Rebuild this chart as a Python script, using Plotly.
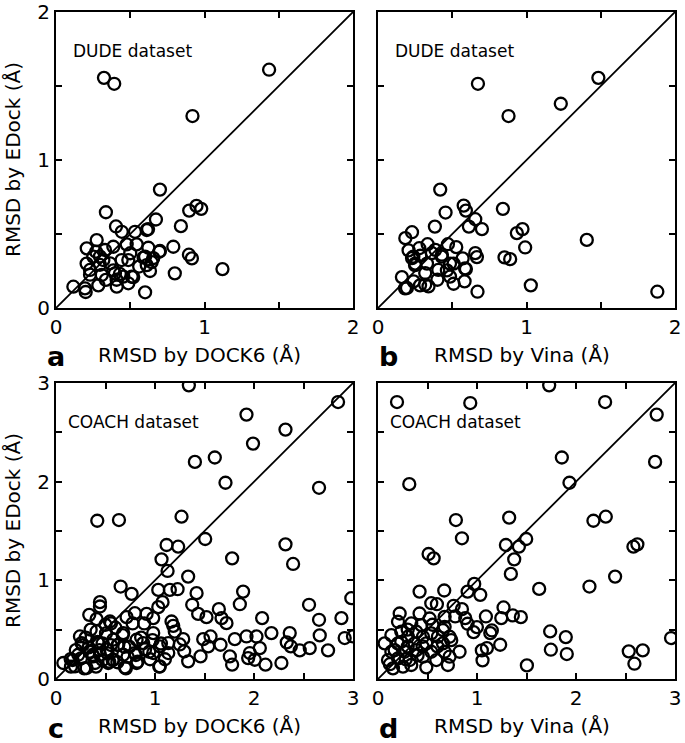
import plotly.graph_objects as go

# DUDE set: DOCK6 vs EDock (panel a)
dude_dock6 = [1.435, 0.323, 0.392, 0.919, 0.70, 0.336, 0.897, 0.946, 0.978, 0.673, 0.841, 0.404,
              0.443, 0.532, 0.611, 0.274, 0.207, 0.33, 0.386, 0.476, 0.543, 0.622, 0.70, 0.79,
              0.251, 0.319, 0.364, 0.442, 0.487, 0.60, 0.611, 0.644, 0.229, 0.308, 0.397, 0.453,
              0.51, 0.633, 0.80, 0.117, 0.195, 0.285, 0.409, 0.487, 0.60, 0.895, 0.915, 1.121,
              0.20, 0.296, 0.386, 0.43, 0.52, 0.206, 0.296, 0.336, 0.408, 0.59, 0.655, 0.229,
              0.695, 0.62, 0.50, 0.56, 0.27]
dude_edock_a = [1.61, 1.555, 1.515, 1.297, 0.80, 0.647, 0.658, 0.69, 0.67, 0.598, 0.553, 0.551,
                0.515, 0.515, 0.527, 0.459, 0.403, 0.392, 0.414, 0.43, 0.43, 0.407, 0.385, 0.414,
                0.347, 0.324, 0.302, 0.324, 0.324, 0.347, 0.29, 0.31, 0.257, 0.223, 0.234, 0.212,
                0.212, 0.25, 0.234, 0.144, 0.133, 0.153, 0.144, 0.167, 0.106, 0.36, 0.335, 0.263,
                0.108, 0.348, 0.254, 0.23, 0.209, 0.30, 0.292, 0.19, 0.191, 0.34, 0.337, 0.225,
                0.38, 0.533, 0.37, 0.28, 0.38]

# DUDE set: Vina vs EDock (panel b)
dude_vina = [1.484, 0.673, 1.231, 0.879, 0.419, 0.577, 0.592, 0.455, 0.841, 0.655, 0.612, 0.70,
             0.383, 0.229, 0.184, 0.935, 0.973, 1.406, 0.991, 0.334, 0.278, 0.471, 0.527, 0.206,
             0.386, 0.43, 0.655, 0.666, 0.57, 0.852, 0.89, 0.229, 0.25, 0.33, 0.509, 0.592,
             0.161, 0.24, 0.195, 0.318, 0.318, 0.34, 0.40, 0.464, 0.509, 0.583, 0.67, 1.029,
             1.881, 0.285, 0.363, 0.238, 0.429, 0.249, 0.485, 0.586, 0.406, 0.283, 0.182, 0.485]
dude_edock_b = [1.555, 1.515, 1.38, 1.297, 0.80, 0.692, 0.658, 0.645, 0.67, 0.60, 0.55, 0.533,
                0.55, 0.512, 0.472, 0.506, 0.533, 0.46, 0.409, 0.431, 0.404, 0.431, 0.411, 0.389,
                0.393, 0.36, 0.371, 0.344, 0.335, 0.342, 0.33, 0.337, 0.30, 0.30, 0.30, 0.263,
                0.209, 0.18, 0.135, 0.236, 0.157, 0.146, 0.191, 0.254, 0.164, 0.18, 0.11, 0.153,
                0.11, 0.353, 0.371, 0.347, 0.347, 0.29, 0.30, 0.268, 0.257, 0.153, 0.133, 0.212]

# COACH set: DOCK6 vs EDock (panel c)
coach_dock6 = [1.342, 2.849, 1.924, 2.318, 1.99, 1.403, 1.604, 1.712, 2.657, 0.417, 0.636, 1.268,
               1.507, 1.117, 1.234, 2.318, 2.395, 1.066, 1.779, 1.127, 1.335, 0.653, 1.033, 1.15,
               1.228, 1.42, 1.89, 0.764, 2.983, 0.444, 0.444, 1.076, 1.033, 1.376, 1.645, 1.857,
               2.556, 0.336, 0.41, 0.545, 0.713, 0.797, 0.915, 0.982, 1.167, 1.184, 1.436, 1.52,
               1.672, 1.722, 2.082, 2.657, 2.883, 2.176, 2.361, 2.664, 2.916, 3.0, 2.563, 2.748,
               2.462, 2.331, 2.372, 2.059, 2.025, 1.924, 1.806, 1.662, 1.561, 1.487, 1.537, 1.46,
               1.335, 1.285, 1.295, 1.756, 1.779, 1.941, 1.958, 2.008, 2.116, 2.277, 1.049, 1.134,
               1.049, 1.134, 0.982, 0.982, 0.881, 0.814, 0.797, 0.814, 0.679, 0.696, 0.679, 0.629,
               0.579, 0.511, 0.528, 0.444, 0.427, 0.41, 0.394, 0.309, 0.259, 0.242, 0.225, 0.148,
               0.074, 0.192, 0.377, 0.555, 0.774, 0.891, 0.505, 0.673, 0.975, 1.06, 0.269, 0.42,
               0.555, 0.622, 0.69, 0.2, 0.336, 0.437, 0.521, 0.74, 0.942, 0.168, 0.252, 0.37,
               0.471, 0.572, 0.723, 0.807, 0.151, 0.286, 0.404, 0.538, 0.706, 0.824, 1.043, 0.30,
               0.35, 0.50, 0.60, 0.33, 0.47, 0.58, 0.62, 0.86, 0.90, 1.20, 1.25, 0.95, 1.10]
coach_edock_c = [2.976, 2.807, 2.68, 2.528, 2.386, 2.20, 2.245, 1.989, 1.938, 1.604, 1.611, 1.645,
                 1.419, 1.358, 1.341, 1.365, 1.166, 1.213, 1.223, 1.095, 1.038, 0.937, 0.903, 0.903,
                 0.91, 0.87, 0.886, 0.863, 0.819, 0.779, 0.735, 0.779, 0.728, 0.752, 0.708, 0.758,
                 0.752, 0.65, 0.607, 0.583, 0.627, 0.667, 0.66, 0.617, 0.583, 0.539, 0.66, 0.627,
                 0.617, 0.566, 0.617, 0.60, 0.617, 0.465, 0.465, 0.442, 0.415, 0.431, 0.313, 0.29,
                 0.29, 0.371, 0.33, 0.313, 0.431, 0.431, 0.404, 0.347, 0.431, 0.404, 0.33, 0.229,
                 0.179, 0.404, 0.28, 0.229, 0.145, 0.212, 0.263, 0.195, 0.145, 0.162, 0.128, 0.263,
                 0.33, 0.364, 0.263, 0.465, 0.364, 0.398, 0.263, 0.162, 0.246, 0.118, 0.465, 0.347,
                 0.195, 0.297, 0.162, 0.246, 0.364, 0.482, 0.162, 0.111, 0.364, 0.431, 0.246, 0.202,
                 0.162, 0.128, 0.229, 0.563, 0.563, 0.563, 0.462, 0.445, 0.394, 0.36, 0.344, 0.377,
                 0.344, 0.344, 0.327, 0.293, 0.276, 0.293, 0.26, 0.327, 0.276, 0.192, 0.209, 0.243,
                 0.192, 0.192, 0.226, 0.243, 0.125, 0.108, 0.125, 0.175, 0.108, 0.175, 0.125, 0.42,
                 0.50, 0.55, 0.52, 0.32, 0.36, 0.40, 0.17, 0.42, 0.30, 0.48, 0.35, 0.20, 0.20]

# COACH set: Vina vs EDock (panel d)
coach_vina = [1.729, 0.192, 0.932, 2.294, 2.815, 2.799, 1.857, 1.934, 0.316, 0.787, 1.325, 2.176,
              2.301, 0.848, 1.497, 1.292, 1.423, 2.58, 2.62, 0.511, 0.562, 1.376, 1.342, 2.395,
              2.136, 1.628, 0.972, 0.905, 1.033, 0.42, 0.669, 0.538, 0.595, 0.764, 0.848, 0.78,
              0.881, 1.09, 1.268, 1.245, 1.362, 1.443, 0.905, 0.999, 0.965, 1.15, 1.134, 1.234,
              1.1, 1.049, 1.056, 1.739, 1.746, 1.897, 1.907, 1.504, 2.533, 2.674, 2.59, 2.96,
              0.219, 0.202, 0.42, 0.521, 0.673, 0.336, 0.437, 0.673, 0.135, 0.235, 0.387, 0.538,
              0.656, 0.723, 0.067, 0.235, 0.37, 0.488, 0.656, 0.74, 0.135, 0.269, 0.387, 0.538,
              0.673, 0.824, 0.101, 0.202, 0.32, 0.454, 0.589, 0.723, 0.151, 0.252, 0.336, 0.488,
              0.706, 0.168, 0.303, 0.454, 0.605, 0.30, 0.45, 0.60, 0.20, 0.28, 0.40, 0.55, 0.30,
              0.12]
coach_edock_d = [2.976, 2.807, 2.797, 2.807, 2.68, 2.20, 2.245, 1.989, 1.975, 1.611, 1.635, 1.604,
                 1.645, 1.426, 1.419, 1.358, 1.341, 1.341, 1.365, 1.267, 1.223, 1.213, 1.065, 1.038,
                 0.937, 0.913, 0.964, 0.886, 0.853, 0.886, 0.897, 0.768, 0.758, 0.742, 0.708, 0.634,
                 0.617, 0.634, 0.725, 0.617, 0.644, 0.627, 0.56, 0.526, 0.475, 0.492, 0.465, 0.347,
                 0.313, 0.29, 0.189, 0.482, 0.297, 0.425, 0.253, 0.138, 0.28, 0.29, 0.155, 0.415,
                 0.664, 0.58, 0.664, 0.613, 0.63, 0.563, 0.546, 0.529, 0.445, 0.479, 0.479, 0.462,
                 0.495, 0.428, 0.361, 0.377, 0.361, 0.361, 0.361, 0.394, 0.276, 0.276, 0.293, 0.276,
                 0.276, 0.276, 0.192, 0.209, 0.192, 0.226, 0.192, 0.226, 0.108, 0.125, 0.142, 0.118,
                 0.142, 0.293, 0.428, 0.428, 0.428, 0.33, 0.33, 0.33, 0.36, 0.20, 0.24, 0.55, 0.50,
                 0.15]

tick_vals_2 = [0, 0.5, 1, 1.5, 2]
tick_text_2 = ["0", "", "1", "", "2"]
tick_vals_3 = [0, 0.5, 1, 1.5, 2, 2.5, 3]
tick_text_3 = ["0", "", "1", "", "2", "", "3"]

W, H = 685, 743
FONT = "DejaVu Sans"


def px_x(p):
    return p / W


def px_y(p):
    return 1 - p / H


panels = [
    # x data, y data, x pixel span, y pixel span, max, x title, letter, dataset label
    (dude_dock6, dude_edock_a, (56, 353), (12, 308), 2, "RMSD by DOCK6 (Å)", "a", "DUDE dataset"),
    (dude_vina, dude_edock_b, (378, 675), (12, 308), 2, "RMSD by Vina (Å)", "b", "DUDE dataset"),
    (coach_dock6, coach_edock_c, (56, 353), (383, 679), 3, "RMSD by DOCK6 (Å)", "c", "COACH dataset"),
    (coach_vina, coach_edock_d, (378, 675), (383, 679), 3, "RMSD by Vina (Å)", "d", "COACH dataset"),
]

fig = go.Figure()
annotations = []

for i, (xs, ys, xspan, yspan, vmax, xtitle, letter, label) in enumerate(panels):
    n = "" if i == 0 else str(i + 1)
    xa, ya = "x" + n, "y" + n
    tv = tick_vals_2 if vmax == 2 else tick_vals_3
    tt = tick_text_2 if vmax == 2 else tick_text_3
    left_col = xspan[0] < 100

    fig.add_trace(go.Scatter(x=[0, vmax], y=[0, vmax], mode="lines",
                             line=dict(color="black", width=1.8),
                             xaxis=xa, yaxis=ya, showlegend=False, hoverinfo="skip"))
    fig.add_trace(go.Scatter(x=xs, y=ys, mode="markers",
                             marker=dict(symbol="circle-open", size=12, color="black",
                                         line=dict(width=2.3, color="black")),
                             xaxis=xa, yaxis=ya, showlegend=False))

    common = dict(range=[0, vmax], tickvals=tv, ticktext=tt, ticks="inside", ticklen=6,
                  tickwidth=1.5, tickcolor="black", showline=True, linecolor="black",
                  linewidth=2, mirror="ticks", showgrid=False, zeroline=False,
                  automargin=False,
                  tickfont=dict(family=FONT, size=20, color="black"))
    fig.update_layout({
        "xaxis" + n: dict(common, domain=[px_x(xspan[0]), px_x(xspan[1])], anchor=ya),
        "yaxis" + n: dict(common, domain=[px_y(yspan[1]), px_y(yspan[0])], anchor=xa,
                          showticklabels=left_col),
    })

    # dataset label inside the plot
    annotations.append(dict(x=0.1, y=vmax * 0.868, xref=xa, yref=ya, text=label,
                            showarrow=False, xanchor="left", yanchor="middle",
                            font=dict(family=FONT, size=17, color="black")))
    # x axis title
    annotations.append(dict(x=px_x((xspan[0] + xspan[1]) / 2 - 5), y=px_y(yspan[1] + 47),
                            xref="paper", yref="paper", text=xtitle, showarrow=False,
                            xanchor="center", yanchor="middle",
                            font=dict(family=FONT, size=20, color="black")))
    # panel letter
    annotations.append(dict(x=px_x(xspan[0] + (0 if left_col else 10)), y=px_y(yspan[1] + 49),
                            xref="paper", yref="paper", text="<b>" + letter + "</b>",
                            showarrow=False, xanchor="center", yanchor="middle",
                            font=dict(family=FONT, size=27, color="black")))
    if left_col:
        annotations.append(dict(x=px_x(13), y=px_y((yspan[0] + yspan[1]) / 2), xref="paper",
                                yref="paper", text="RMSD by EDock (Å)", textangle=-90,
                                showarrow=False, xanchor="center", yanchor="middle",
                                font=dict(family=FONT, size=20, color="black")))

fig.update_layout(width=W, height=H, margin=dict(l=0, r=0, t=0, b=0),
                  paper_bgcolor="white", plot_bgcolor="white", annotations=annotations)

# drop the browser's default page margin so the figure fills the window exactly
fig.write_html("out.html", config={"displayModeBar": False},
               post_script="document.body.style.margin='0px';")
